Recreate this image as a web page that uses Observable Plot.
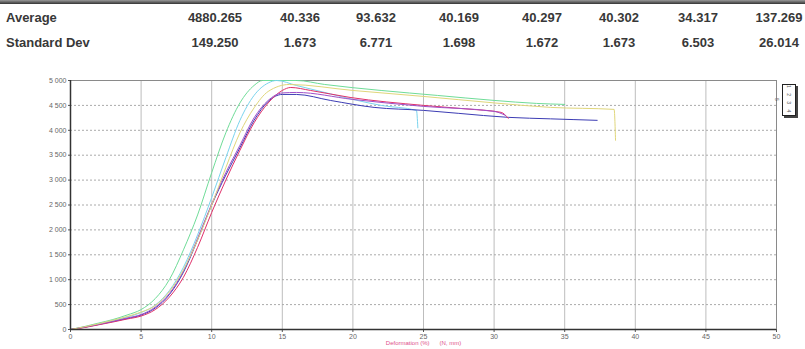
<!DOCTYPE html>
<html><head><meta charset="utf-8">
<script src="https://cdn.jsdelivr.net/npm/d3@7"></script>
<script src="https://cdn.jsdelivr.net/npm/@observablehq/plot@0.6"></script>
<style>
body{margin:0;background:#fff;width:805px;height:349px;overflow:hidden;position:relative;font-family:"Liberation Sans",Arial,sans-serif}
#topline{position:absolute;left:0;top:0;width:805px;height:4px;background:linear-gradient(#999,#333)}
.cell{position:absolute;font-weight:bold;font-size:13px;color:#383838;line-height:13px;white-space:nowrap}
.num{transform:translateX(-50%)}
#chart{position:absolute;left:0;top:55px}
#legend{position:absolute;left:782px;top:84px;width:12px;height:30px;border:1px solid #222;background:#fff;box-shadow:2px 2px 0 #444;font-size:5px;color:#555;writing-mode:vertical-rl;text-align:center;line-height:12px;letter-spacing:2px}
</style></head><body>
<div id="topline"></div>
<div id="table"></div>
<div id="chart"></div>
<div id="legend"></div>
<script>
// ---- table data ----
const rowLabels = ["Average", "Standard Dev"];
const averageValues = ["4880.265", "40.336", "93.632", "40.169", "40.297", "40.302", "34.317", "137.269"];
const stdDevValues = ["149.250", "1.673", "6.771", "1.698", "1.672", "1.673", "6.503", "26.014"];

// ---- chart data ----
const seriesNames = ["1", "2", "3", "4", "5", "6"];
const xTicks = [0, 5, 10, 15, 20, 25, 30, 35, 40, 45, 50];
const yTicks = [0, 500, 1000, 1500, 2000, 2500, 3000, 3500, 4000, 4500, 5000];
const axisTitle = "Deformation (%)      (N, mm)";

const x1 = [0, 1, 2, 3, 4, 5, 6, 7, 8, 9, 10, 11, 12, 13, 13.6, 16, 18, 22, 26, 30, 33, 35];
const y1 = [0, 60, 130, 200, 290, 400, 620, 1000, 1600, 2300, 3150, 3950, 4550, 4900, 5000, 5000, 4920, 4800, 4700, 4600, 4540, 4520];

const x2 = [0, 1, 2, 3, 4, 5, 6, 7, 8, 9, 10, 11, 12, 13, 14, 14.6, 16, 18, 20, 22, 24.5, 24.6];
const y2 = [0, 50, 110, 180, 250, 340, 490, 780, 1250, 1900, 2650, 3450, 4200, 4700, 4950, 5000, 4900, 4760, 4620, 4500, 4400, 4050];

const x3 = [0, 1, 2, 3, 4, 5, 6, 7, 8, 9, 10, 11, 12, 13, 14, 15, 16, 18.4, 21.5, 25, 27.5, 31, 34, 37.3];
const y3 = [0, 45, 100, 160, 220, 290, 430, 700, 1150, 1800, 2500, 3100, 3650, 4200, 4580, 4720, 4720, 4600, 4460, 4400, 4340, 4260, 4230, 4200];

const x4 = [0, 1, 2, 3, 4, 5, 6, 7, 8, 9, 10, 11, 12, 13, 14, 15, 15.6, 17, 19.8, 25, 28, 30.5, 31];
const y4 = [0, 40, 95, 150, 210, 270, 400, 650, 1050, 1650, 2350, 3000, 3600, 4150, 4550, 4800, 4860, 4800, 4660, 4500, 4430, 4360, 4240];

const x5 = [0, 1, 2, 3, 4, 5, 6, 7, 8, 9, 10, 11, 12, 13, 14, 15, 16, 20, 25, 30, 30.8];
const y5 = [0, 50, 105, 165, 230, 300, 450, 720, 1180, 1830, 2520, 3150, 3700, 4250, 4600, 4750, 4760, 4620, 4480, 4380, 4300];

const x6 = [0, 1, 2, 3, 4, 5, 6, 7, 8, 9, 10, 11, 12, 13, 14, 15.5, 20, 25, 30, 34, 38.5, 38.6];
const y6 = [0, 55, 115, 185, 260, 350, 480, 760, 1200, 1800, 2500, 3250, 3950, 4450, 4780, 4920, 4800, 4680, 4550, 4460, 4420, 3800];

const seriesColors = ["#6fdc98", "#7ad4ee", "#3c3cb4", "#e0306a", "#a050c8", "#e0d67a"];

// ---- table ----
const colCenters = [215, 300, 376, 459, 542, 619, 698, 779];
const rowCenters = [17, 42];
const tbl = document.getElementById("table");
[averageValues, stdDevValues].forEach((vals, r) => {
  const lab = document.createElement("div");
  lab.className = "cell";
  lab.style.left = "6px";
  lab.style.top = (rowCenters[r] - 6) + "px";
  lab.textContent = rowLabels[r];
  tbl.appendChild(lab);
  vals.forEach((v, c) => {
    const d = document.createElement("div");
    d.className = "cell num";
    d.style.left = colCenters[c] + "px";
    d.style.top = (rowCenters[r] - 6) + "px";
    d.textContent = v;
    tbl.appendChild(d);
  });
});

// ---- build rows ----
const xs = [x1, x2, x3, x4, x5, x6], ys = [y1, y2, y3, y4, y5, y6];
const rows = [];
xs.forEach((xa, i) => xa.forEach((xv, j) => rows.push({series: seriesNames[i], x: xv, y: ys[i][j]})));

const fmtY = d => d >= 1000 ? Math.floor(d / 1000) + " " + String(d % 1000).padStart(3, "0") : String(d);

const chart = Plot.plot({
  width: 805, height: 294,
  marginLeft: 70, marginRight: 29, marginTop: 25, marginBottom: 20,
  x: {domain: [0, 50]},
  y: {domain: [0, 5000]},
  color: {domain: seriesNames, range: seriesColors},
  style: {fontFamily: "'Liberation Sans', Arial, sans-serif", fontSize: "7px", color: "#666", background: "transparent"},
  marks: [
    Plot.gridX(xTicks, {stroke: "#bdbdbd", strokeOpacity: 1}),
    Plot.gridY(yTicks, {stroke: "#aaa", strokeOpacity: 1, strokeDasharray: "2,2"}),
    Plot.frame({stroke: "#8a8a8a"}),
    Plot.axisX(xTicks, {tickSize: 3, tickPadding: 2, stroke: "#555", fill: "#666", label: null}),
    Plot.axisY(yTicks, {tickSize: 2, tickPadding: 2, stroke: "#555", fill: "#666", tickFormat: fmtY, label: null}),
    Plot.line(rows, {x: "x", y: "y", z: "series", stroke: "series", strokeWidth: 1, curve: "monotone-x"}),
    Plot.ruleX([0], {stroke: "#333", strokeWidth: 1.5}),
    Plot.ruleY([0], {stroke: "#333", strokeWidth: 1.5}),
    Plot.text([axisTitle], {frameAnchor: "bottom", dy: 15, fill: "#e0508a", fontSize: 6})
  ]
});
document.getElementById("chart").appendChild(chart);
document.getElementById("legend").textContent = seriesNames.slice(0, 5).join(" ");
</script>
</body></html>
